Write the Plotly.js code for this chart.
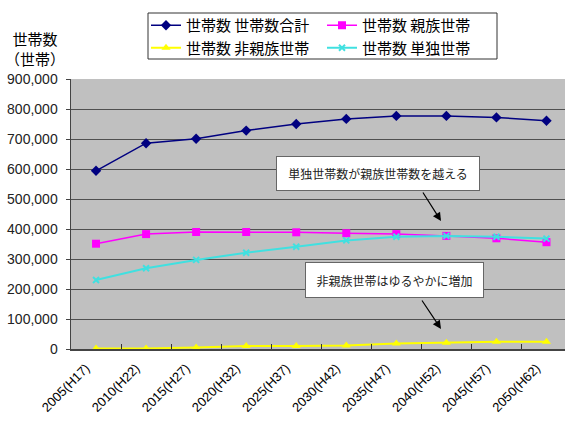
<!DOCTYPE html>
<html>
<head>
<meta charset="utf-8">
<script src="https://cdn.plot.ly/plotly-3.0.1.min.js"></script>
<style>html,body{margin:0;padding:0;background:#fff;}#chart{width:565px;height:422px;}</style>
</head>
<body>
<div id="chart"></div>
<script>
const categories = ["2005(H17)","2010(H22)","2015(H27)","2020(H32)","2025(H37)","2030(H42)","2035(H47)","2040(H52)","2045(H57)","2050(H62)"];
const totalHouseholds = [594000, 686000, 701000, 728000, 750000, 767000, 777000, 777000, 772000, 761000];
const kinHouseholds = [351000, 383000, 390000, 390000, 389000, 386000, 383000, 377000, 369000, 356000];
const nonKinHouseholds = [2000, 2000, 5000, 10000, 10000, 12000, 18000, 21000, 24000, 24000];
const singleHouseholds = [230000, 269000, 297000, 321000, 341000, 362000, 374000, 377000, 374000, 368000];
const seriesNames = ["世帯数 世帯数合計", "世帯数 親族世帯", "世帯数 非親族世帯", "世帯数 単独世帯"];
const yTickVals = [0,100000,200000,300000,400000,500000,600000,700000,800000,900000];

const jp = '"Noto Sans CJK JP", "Noto Sans", sans-serif';
const traces = [
  {x: categories, y: totalHouseholds, name: seriesNames[0], type: 'scatter', mode: 'lines+markers',
   line: {color: '#000080', width: 1.5}, marker: {symbol: 'diamond', size: 8, color: '#000080'}, legend: 'legend'},
  {x: categories, y: kinHouseholds, name: seriesNames[1], type: 'scatter', mode: 'lines+markers',
   line: {color: '#FF00FF', width: 1.5}, marker: {symbol: 'square', size: 8, color: '#FF00FF'}, legend: 'legend2'},
  {x: categories, y: nonKinHouseholds, name: seriesNames[2], type: 'scatter', mode: 'lines+markers',
   line: {color: '#FFFF00', width: 2}, marker: {symbol: 'triangle-up', size: 8, color: '#FFFF00'}, legend: 'legend'},
  {x: categories, y: singleHouseholds, name: seriesNames[3], type: 'scatter', mode: 'lines+markers',
   line: {color: '#40E0E0', width: 2}, marker: {symbol: 'x-thin-open', size: 6, color: '#40E0E0', line: {width: 2, color: '#40E0E0'}}, legend: 'legend2'}
];

const L = 71, T = 79, PH = 270, PW = 494;
const px = v => (v - L) / PW;
const py = v => (T + PH - v) / PH;

const layout = {
  width: 565, height: 422,
  margin: {l: L, r: 0, t: T, b: 422 - T - PH},
  paper_bgcolor: '#ffffff',
  plot_bgcolor: '#C0C0C0',
  showlegend: true,
  font: {family: '"Liberation Sans", Arial, sans-serif', color: '#000'},
  xaxis: {
    type: 'category', range: [-0.5, 9.37], tickson: 'boundaries', ticks: 'inside', ticklen: 5,
    tickcolor: '#333', tickangle: -45, tickfont: {size: 13, color: '#000'},
    ticklabelshift: -10, ticklabelstandoff: 5,
    showgrid: false, showline: true, linecolor: '#444', linewidth: 1.5, zeroline: false, fixedrange: true
  },
  yaxis: {
    range: [0, 900000], tickvals: yTickVals, tickformat: ',d', ticks: 'outside', ticklen: 4,
    tickcolor: '#444', tickfont: {size: 14, color: '#222'}, ticklabelstandoff: 5,
    showgrid: true, gridcolor: '#505050', gridwidth: 1,
    showline: true, linecolor: '#444', linewidth: 1.5, zeroline: false, fixedrange: true
  },
  legend: {x: px(146), y: py(9), xanchor: 'left', yanchor: 'top', orientation: 'v',
    bgcolor: 'rgba(0,0,0,0)', borderwidth: 0, font: {family: jp, size: 15, color: '#000'},
    tracegroupgap: 0, itemwidth: 30},
  legend2: {x: px(322), y: py(9), xanchor: 'left', yanchor: 'top', orientation: 'v',
    bgcolor: 'rgba(0,0,0,0)', borderwidth: 0, font: {family: jp, size: 15, color: '#000'},
    tracegroupgap: 0, itemwidth: 30},
  shapes: [
    {type: 'rect', xref: 'paper', yref: 'paper', x0: px(148), x1: px(497), y0: py(13), y1: py(59),
     line: {color: '#333', width: 1}, fillcolor: 'rgba(0,0,0,0)'}
  ],
  annotations: [
    {xref: 'paper', yref: 'paper', x: px(35), y: py(49), xanchor: 'center', yanchor: 'middle',
     text: '世帯数<br>（世帯）', showarrow: false, font: {family: jp, size: 15, color: '#000'}, align: 'center'},
    {xref: 'paper', yref: 'paper', x: px(378), y: py(173), xanchor: 'center', yanchor: 'middle',
     text: '単独世帯数が親族世帯数を越える', showarrow: false, font: {family: jp, size: 12, color: '#222'},
     bgcolor: '#ffffff', bordercolor: '#666', borderwidth: 1, width: 200, height: 31},
    {xref: 'paper', yref: 'paper', x: px(394), y: py(280), xanchor: 'center', yanchor: 'middle',
     text: '非親族世帯はゆるやかに増加', showarrow: false, font: {family: jp, size: 12, color: '#222'},
     bgcolor: '#ffffff', bordercolor: '#666', borderwidth: 1, width: 175, height: 32},
    {xref: 'paper', yref: 'paper', x: px(441), y: py(221), text: '', showarrow: true,
     ax: -19, ay: -30, arrowhead: 2, arrowsize: 1.4, arrowwidth: 1.2, arrowcolor: '#000', standoff: 0, startstandoff: 0},
    {xref: 'paper', yref: 'paper', x: px(441), y: py(329), text: '', showarrow: true,
     ax: -20, ay: -30, arrowhead: 2, arrowsize: 1.4, arrowwidth: 1.2, arrowcolor: '#000', standoff: 0, startstandoff: 0}
  ]
};

Plotly.newPlot('chart', traces, layout, {displayModeBar: false, staticPlot: true});
</script>
</body>
</html>
